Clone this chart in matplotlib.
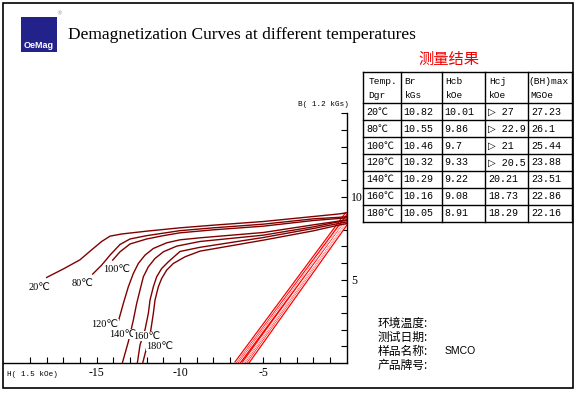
import matplotlib
matplotlib.use("Agg")
import matplotlib.pyplot as plt
from matplotlib.patches import Rectangle
import numpy as np

# ---- data -------------------------------------------------------------
temps = ["20℃", "80℃", "100℃", "120℃", "140℃", "160℃", "180℃"]
br_kgs = [10.82, 10.55, 10.46, 10.32, 10.29, 10.16, 10.05]
hcb_koe = [10.01, 9.86, 9.7, 9.33, 9.22, 9.08, 8.91]
hcj_txt = ["▷ 27", "▷ 22.9", "▷ 21", "▷ 20.5", "20.21", "18.73", "18.29"]
bhmax = [27.23, 26.1, 25.44, 23.88, 23.51, 22.86, 22.16]

# intrinsic curves (H in 1.5 kOe, B in 1.2 kGs)
h20 = [-18.0, -17.0, -16.0, -15.3, -14.7, -14.2, -13.5, -12.0, -10.0, -8.0, -5.0, -2.0, -0.5, 0]
b20 = [5.14, 5.65, 6.2, 6.8, 7.3, 7.62, 7.75, 7.92, 8.12, 8.28, 8.5, 8.8, 8.95, 9.02]
h80 = [-15.24, -14.7, -14.2, -13.6, -13.0, -12.0, -11.0, -10.0, -8.0, -5.0, -2.0, -0.5, 0]
b80 = [5.34, 5.88, 6.48, 7.12, 7.45, 7.65, 7.8, 7.95, 8.12, 8.34, 8.66, 8.75, 8.79]
h100 = [-14.04, -13.6, -13.0, -12.0, -11.0, -10.0, -8.0, -5.0, -2.0, -0.5, 0]
b100 = [6.18, 6.68, 7.15, 7.45, 7.65, 7.82, 8.0, 8.22, 8.56, 8.68, 8.72]
h120 = [-13.7, -13.4, -13.1, -12.8, -12.5, -12.1, -11.6, -10.8, -10.0, -8.8, -5.0, -2.0, -0.5, 0]
b120 = [2.5, 3.58, 4.58, 5.38, 5.98, 6.48, 6.88, 7.22, 7.4, 7.52, 7.84, 8.3, 8.52, 8.6]
h140 = [-13.46, -13.1, -12.8, -12.6, -12.4, -12.2, -11.9, -11.5, -11.0, -10.2, -8.8, -5.0, -2.0, -0.5, 0]
b140 = [0.0, 1.28, 2.58, 3.58, 4.38, 5.18, 5.78, 6.28, 6.68, 7.02, 7.3, 7.68, 8.18, 8.48, 8.575]
h160 = [-12.56, -12.4, -12.1, -11.9, -11.8, -11.6, -11.4, -11.1, -10.7, -10.0, -8.8, -5.0, -2.0, -0.5, 0]
b160 = [0.0, 1.08, 2.0, 2.98, 3.78, 4.58, 5.18, 5.68, 6.08, 6.7, 6.95, 7.54, 8.08, 8.38, 8.47]
h180 = [-12.24, -11.96, -11.75, -11.6, -11.5, -11.3, -11.1, -10.8, -10.4, -9.7, -8.8, -5.0, -2.0, -0.5, 0]
b180 = [0.0, 1.08, 2.0, 2.98, 3.78, 4.58, 5.08, 5.58, 5.98, 6.38, 6.72, 7.38, 7.94, 8.28, 8.375]

curves_h = [h20, h80, h100, h120, h140, h160, h180]
curves_b = [b20, b80, b100, b120, b140, b160, b180]

# curve label centres (data coords)
lab_h = [-18.46, -15.82, -13.78, -14.5, -13.42, -11.98, -11.2]
lab_b = [4.56, 4.8, 5.64, 2.34, 1.74, 1.62, 1.02]

W, H = 579, 393
fig = plt.figure(figsize=(W / 100, H / 100), dpi=100)

# ---- main B-H axes ----------------------------------------------------
x0, x1 = 3.0, 346.7
y0, y1 = 363.0, 113.3
ax = fig.add_axes([x0 / W, 1 - y0 / H, (x1 - x0) / W, (y0 - y1) / H])
ax.set_xlim(-20.62, 0)
ax.set_ylim(0, 15)
ax.patch.set_visible(False)
for s in ["top", "left"]:
    ax.spines[s].set_visible(False)
ax.spines["right"].set_linewidth(1.0)
ax.spines["bottom"].set_linewidth(1.0)
ax.yaxis.tick_right()
ax.set_xticks([-15, -10, -5])
ax.set_xticklabels(["-15", "-10", "-5"])
ax.set_xticks(np.arange(-19, 0), minor=True)
ax.set_yticks([5, 10])
ax.set_yticks(np.arange(1, 16), minor=True)
ax.tick_params(which="both", direction="in", length=4, width=0.8)
ax.tick_params(axis="x", which="major", pad=3, labelsize=8.5)
ax.tick_params(axis="y", which="major", pad=3, labelsize=8.5)
for lab in ax.get_xticklabels() + ax.get_yticklabels():
    lab.set_family("Liberation Serif")

# normal B-H lines (straight) from table values
for br, hc in zip(br_kgs, hcb_koe):
    ax.plot([-hc / 1.5, 0], [0, br / 1.2], color="#ff0000", lw=2.4,
            solid_capstyle="butt", zorder=2)
for br, hc in zip(br_kgs, hcb_koe):
    ax.plot([-hc / 1.5, 0], [0, br / 1.2], color="white", lw=0.6,
            solid_capstyle="butt", zorder=2.1)

for hh, bb in zip(curves_h, curves_b):
    ax.plot(hh, bb, color="#800000", lw=1.0, zorder=3)

for t, lh, lb in zip(temps, lab_h, lab_b):
    ax.text(lh, lb, t, fontsize=7.5, family=["Liberation Serif", "DejaVu Sans"],
            ha="center", va="center", zorder=4,
            bbox=dict(boxstyle="square,pad=0.05", fc="white", ec="none"))

# ---- overlay in pixel coordinates ------------------------------------
ov = fig.add_axes([0, 0, 1, 1])
ov.set_xlim(0, W)
ov.set_ylim(H, 0)
ov.axis("off")

ov.add_patch(Rectangle((3, 3), 570, 385, fill=False, ec="black", lw=1.2))

# logo
ov.add_patch(Rectangle((21, 17), 36, 35, fc="#22228a", ec="none"))
ov.text(39, 45, "OeMag", color="white", fontsize=6.5, fontweight="bold",
        ha="center", va="center", family="Liberation Sans")
ov.text(59, 14, "®", color="#888888", fontsize=4, ha="center", va="center")

ov.text(68, 35, "Demagnetization Curves at different temperatures",
        fontsize=12.5, family="Liberation Serif", ha="left", va="center")
ov.text(449, 59, "测量结果", fontsize=11, color="#ee0000",
        family="Noto Sans CJK SC", ha="center", va="center")

ov.text(298, 105, "B( 1.2 kGs)", fontsize=5.5, family="Liberation Mono",
        ha="left", va="center")
ov.text(7, 375, "H( 1.5 kOe)", fontsize=5.5, family="Liberation Mono",
        ha="left", va="center")

# table
col_x = [363.3, 400.7, 441.7, 485.0, 528.3, 571.7]
row_y = [71.7, 103.3] + [103.3 + 16.9 * (i + 1) for i in range(7)]
for cx in col_x:
    ov.plot([cx, cx], [row_y[0], row_y[-1]], color="black", lw=1.0)
for ry in row_y:
    ov.plot([col_x[0], col_x[-1]], [ry, ry], color="black", lw=1.0)

tfam = ["Liberation Mono", "DejaVu Sans"]
heads1 = ["Temp.", "Br", "Hcb", "Hcj", "(BH)max"]
heads2 = ["Dgr", "kGs", "kOe", "kOe", "MGOe"]
hoff = [5, 4, 4, 4, 0.5]
for i in range(5):
    ov.text(col_x[i] + hoff[i], 82, heads1[i], fontsize=6.8, family=tfam, va="center")
    ov.text(col_x[i] + hoff[i] + (1.5 if i == 4 else 0), 95, heads2[i], fontsize=6.8,
            family=tfam, va="center")
for r in range(7):
    yc = (row_y[r + 1] + row_y[r + 2]) / 2
    vals = [temps[r], "%.2f" % br_kgs[r], ("%.2f" % hcb_koe[r]).rstrip("0").rstrip("."),
            hcj_txt[r], ("%.2f" % bhmax[r]).rstrip("0").rstrip(".")]
    for i, v in enumerate(vals):
        fam = tfam if i != 0 else ["Liberation Mono", "Noto Sans CJK SC"]
        ov.text(col_x[i] + 3, yc, v, fontsize=7.2, family=fam, va="center")

# info block
info = ["环境温度:", "测试日期:", "样品名称:", "产品牌号:"]
for k, s in enumerate(info):
    ov.text(378, 323 + 14 * k, s, fontsize=8.5, family=["Noto Sans CJK SC", "DejaVu Sans"],
            ha="left", va="center")
ov.text(445, 351, "SMCO", fontsize=7.5, family="Liberation Sans", ha="left", va="center")

fig.savefig("out.png", dpi=100)
